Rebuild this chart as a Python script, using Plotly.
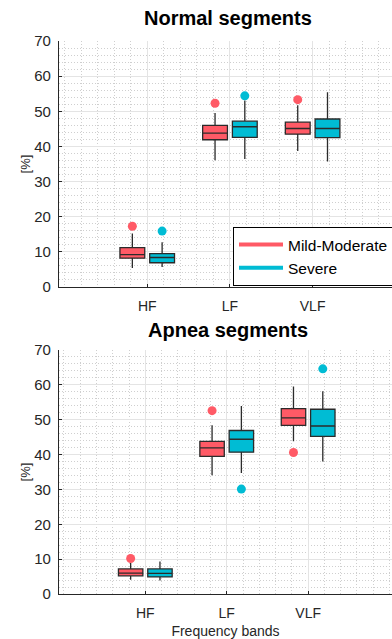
import plotly.graph_objects as go

bands = ["HF", "LF", "VLF"]
band_pos = [1, 2, 3]
groups = ["Mild-Moderate", "Severe"]
colors = ["#FF5A66", "#00BCD4"]

# ---- Normal segments ----
normal_mm_low = [5.4, 36.1, 38.7]
normal_mm_q1 = [8.2, 41.9, 43.5]
normal_mm_med = [9.2, 43.8, 45.1]
normal_mm_q3 = [11.2, 46.0, 46.9]
normal_mm_high = [15.2, 49.5, 51.7]
normal_mm_out_band = ["HF", "LF", "VLF"]
normal_mm_out_val = [17.3, 52.3, 53.3]

normal_sv_low = [5.7, 36.4, 35.7]
normal_sv_q1 = [6.9, 42.6, 42.5]
normal_sv_med = [8.4, 45.6, 45.1]
normal_sv_q3 = [9.5, 47.2, 47.8]
normal_sv_high = [12.7, 53.1, 55.4]
normal_sv_out_band = ["HF", "LF"]
normal_sv_out_val = [15.9, 54.4]

# ---- Apnea segments ----
apnea_mm_low = [4.1, 34.1, 43.8]
apnea_mm_q1 = [5.2, 39.5, 48.4]
apnea_mm_med = [6.0, 41.9, 50.5]
apnea_mm_q3 = [7.2, 43.8, 53.2]
apnea_mm_high = [8.9, 48.4, 59.5]
apnea_mm_out_band = ["HF", "LF", "VLF"]
apnea_mm_out_val = [10.2, 52.6, 40.6]

apnea_sv_low = [3.9, 34.7, 38.0]
apnea_sv_q1 = [4.9, 40.7, 45.2]
apnea_sv_med = [5.9, 44.4, 48.2]
apnea_sv_q3 = [7.2, 46.9, 53.0]
apnea_sv_high = [9.3, 53.9, 58.2]
apnea_sv_out_band = ["LF", "VLF"]
apnea_sv_out_val = [30.1, 64.6]

offsets = [-0.18, 0.18]
box_w = 0.30
edge = "#2b2b2b"
txt = "#262626"
font_family = "Liberation Sans, Arial, sans-serif"

panels = [
    ("x", "y", [
        (normal_mm_low, normal_mm_q1, normal_mm_med, normal_mm_q3, normal_mm_high, normal_mm_out_band, normal_mm_out_val),
        (normal_sv_low, normal_sv_q1, normal_sv_med, normal_sv_q3, normal_sv_high, normal_sv_out_band, normal_sv_out_val),
    ]),
    ("x2", "y2", [
        (apnea_mm_low, apnea_mm_q1, apnea_mm_med, apnea_mm_q3, apnea_mm_high, apnea_mm_out_band, apnea_mm_out_val),
        (apnea_sv_low, apnea_sv_q1, apnea_sv_med, apnea_sv_q3, apnea_sv_high, apnea_sv_out_band, apnea_sv_out_val),
    ]),
]

fig = go.Figure()
for xa, ya, series in panels:
    for gi, (lo, q1, med, q3, hi, ob, ov) in enumerate(series):
        xs = [p + offsets[gi] for p in band_pos]
        fig.add_trace(go.Box(
            x=xs, q1=q1, median=med, q3=q3, lowerfence=lo, upperfence=hi,
            width=box_w, fillcolor=colors[gi], line=dict(color=edge, width=1.3),
            whiskerwidth=0, boxpoints=False, showlegend=False, hoverinfo="skip",
            xaxis=xa, yaxis=ya,
        ))
        ox = [band_pos[bands.index(b)] + offsets[gi] for b in ob]
        fig.add_trace(go.Scatter(
            x=ox, y=ov, mode="markers",
            marker=dict(color=colors[gi], size=9, line=dict(width=0)),
            showlegend=False, xaxis=xa, yaxis=ya,
        ))

# legend entries (line style)
for gi, g in enumerate(groups):
    fig.add_trace(go.Scatter(
        x=[None], y=[None], mode="lines", name=g,
        line=dict(color=colors[gi], width=4), xaxis="x", yaxis="y",
    ))

W, H = 392, 639
def py(px):
    return 1 - px / H

grid_major = "#e4e4e4"
grid_minor = "#cfcfcf"

def xaxis_cfg(rng, anchor, title=None):
    d = dict(
        range=rng, domain=[59 / W, 1], anchor=anchor, automargin=False,
        tickmode="array", tickvals=band_pos, ticktext=bands,
        showgrid=True, gridcolor=grid_major, gridwidth=1.3,
        showline=True, linecolor=txt, linewidth=1.3,
        ticks="inside", ticklen=3, tickcolor=txt,
        tickfont=dict(size=14, color=txt, family=font_family),
        ticklabelstandoff=6, zeroline=False,
        minor=dict(tick0=0, dtick=0.2, showgrid=True, gridcolor=grid_minor,
                   griddash="1px,2px", gridwidth=1, ticklen=0),
    )
    if title:
        d["title"] = dict(text=title, font=dict(size=14, color=txt, family=font_family), standoff=6)
    return d

def yaxis_cfg(top_px, bot_px, anchor):
    return dict(
        range=[0, 70], domain=[py(bot_px), py(top_px)], anchor=anchor, automargin=False,
        dtick=10, tick0=0,
        showgrid=True, gridcolor=grid_major, gridwidth=1.3,
        showline=True, linecolor=txt, linewidth=1.3,
        ticks="inside", ticklen=3, tickcolor=txt,
        tickfont=dict(size=15, color=txt, family=font_family),
        ticklabelstandoff=4, zeroline=False,
        title=dict(text="[%]", font=dict(size=13, color=txt, family=font_family), standoff=0),
        minor=dict(tick0=0, dtick=2, showgrid=True, gridcolor=grid_minor,
                   griddash="1px,2px", gridwidth=1, ticklen=0),
    )

fig.update_layout(
    width=W, height=H,
    margin=dict(l=0, r=0, t=0, b=0, autoexpand=False),
    paper_bgcolor="white", plot_bgcolor="white",
    boxmode="overlay",
    font=dict(family=font_family, color=txt),
    xaxis=xaxis_cfg([-0.067, 3.96], "y"),
    yaxis=yaxis_cfg(41, 287, "x"),
    xaxis2=xaxis_cfg([-0.06, 4.03], "y2", "Frequency bands"),
    yaxis2=yaxis_cfg(350, 594, "x2"),
    legend=dict(
        x=233 / W, y=py(227), xanchor="left", yanchor="top",
        bgcolor="white", bordercolor="#000000", borderwidth=1,
        font=dict(size=15.5, color="#000000", family=font_family),
        itemwidth=44, tracegroupgap=0,
    ),
    showlegend=True,
    annotations=[
        dict(text="<b>Normal segments</b>", x=228 / W, y=py(18), xref="paper", yref="paper",
             showarrow=False, font=dict(size=20, color="#000000", family=font_family),
             xanchor="center", yanchor="middle"),
        dict(text="<b>Apnea segments</b>", x=228 / W, y=py(330), xref="paper", yref="paper",
             showarrow=False, font=dict(size=20, color="#000000", family=font_family),
             xanchor="center", yanchor="middle"),
    ],
)

fig.write_html("out.html")
